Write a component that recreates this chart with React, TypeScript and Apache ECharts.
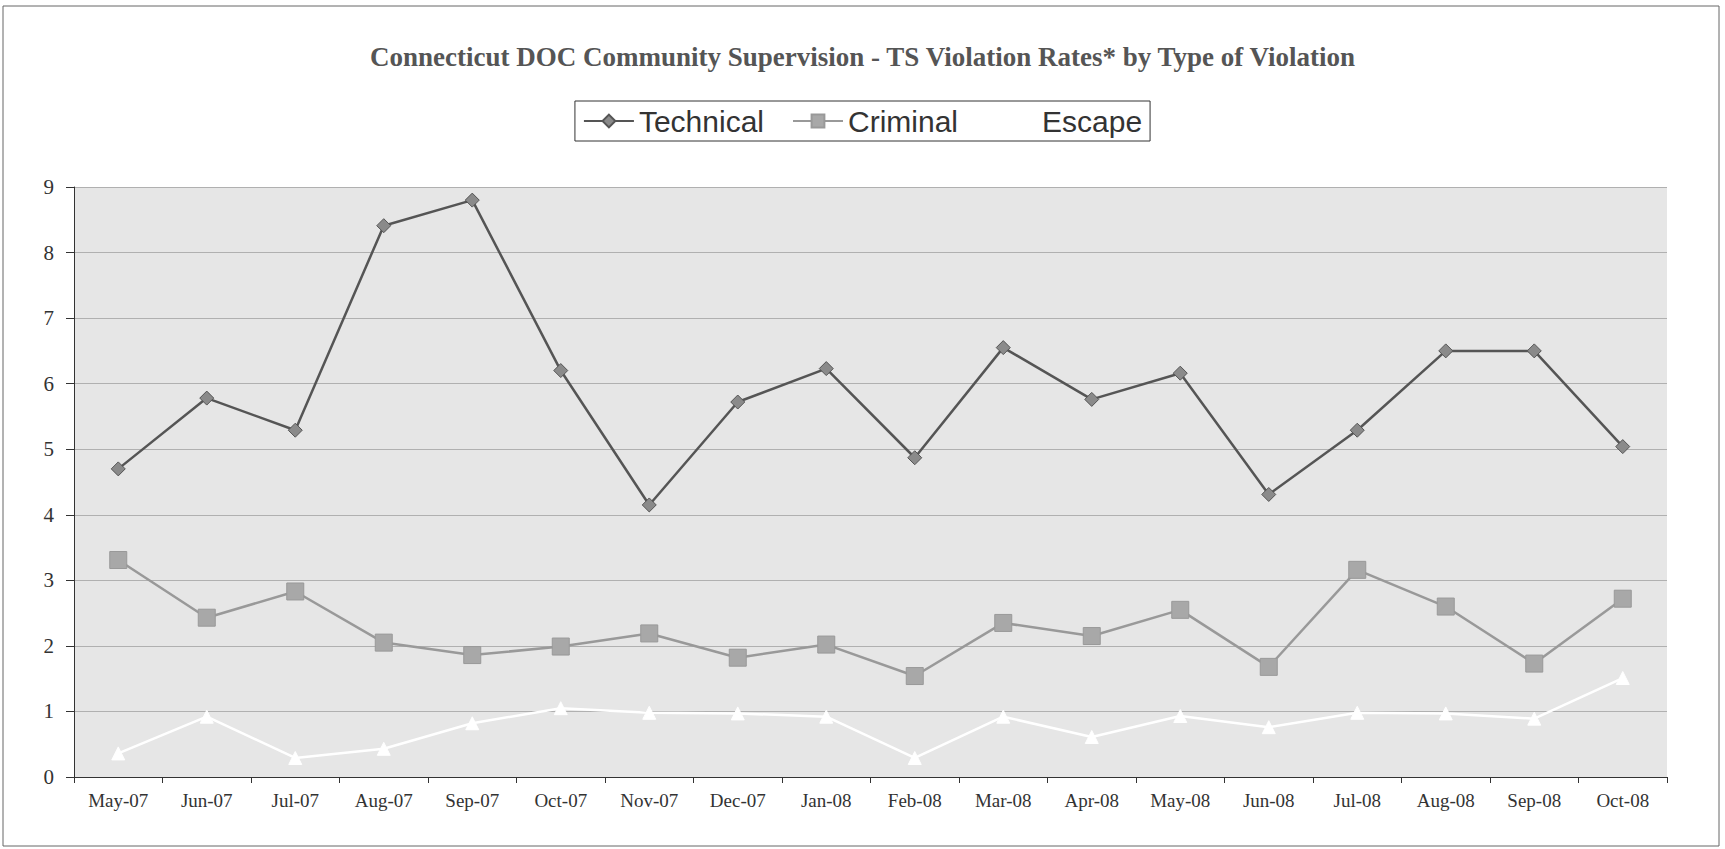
import React, { useEffect, useRef } from "react";
import * as echarts from "echarts";

const categories = [
  "May-07", "Jun-07", "Jul-07", "Aug-07", "Sep-07", "Oct-07", "Nov-07", "Dec-07", "Jan-08",
  "Feb-08", "Mar-08", "Apr-08", "May-08", "Jun-08", "Jul-08", "Aug-08", "Sep-08", "Oct-08",
];
const technical = [4.7, 5.78, 5.29, 8.41, 8.8, 6.2, 4.15, 5.72, 6.23, 4.87, 6.55, 5.76, 6.16, 4.31, 5.29, 6.5, 6.5, 5.04];
const criminal = [3.31, 2.43, 2.83, 2.05, 1.86, 1.99, 2.19, 1.82, 2.02, 1.54, 2.35, 2.15, 2.55, 1.68, 3.16, 2.6, 1.73, 2.72];
const escape = [0.36, 0.92, 0.29, 0.43, 0.82, 1.05, 0.98, 0.97, 0.92, 0.29, 0.92, 0.61, 0.93, 0.76, 0.98, 0.97, 0.89, 1.51];
const yTicks = [0, 1, 2, 3, 4, 5, 6, 7, 8, 9];

export default function App() {
  const ref = useRef<HTMLDivElement>(null);
  useEffect(() => {
    if (!ref.current) return;
    const chart = echarts.init(ref.current, null, { renderer: "svg" });
    chart.setOption({
      animation: false,
      backgroundColor: "#ffffff",
      title: {
        text: "Connecticut DOC Community Supervision - TS Violation Rates* by Type of Violation",
        left: "center",
        top: 38,
        textStyle: {
          fontFamily: "Liberation Serif",
          fontWeight: "bold",
          fontSize: 27,
          color: "#555",
        },
      },
      legend: {
        top: 101,
        left: "center",
        borderColor: "#333",
        borderWidth: 1,
        padding: [5, 8, 5, 8],
        itemGap: 28,
        itemWidth: 50,
        itemHeight: 16,
        textStyle: { fontFamily: "Liberation Sans", fontSize: 30, color: "#333" },
        data: ["Technical", "Criminal", "Escape"],
      },
      graphic: [
        {
          type: "rect",
          shape: { x: 3, y: 6, width: 1716, height: 840 },
          style: { fill: "none", stroke: "#666", lineWidth: 1 },
          silent: true,
        },
      ],
      grid: { left: 74, right: 58, top: 187, bottom: 72, show: true, backgroundColor: "#e6e6e6", borderWidth: 0 },
      xAxis: {
        type: "category",
        data: categories,
        boundaryGap: true,
        axisLine: { lineStyle: { color: "#333", width: 1 } },
        axisTick: { show: true, alignWithLabel: false, length: 6, lineStyle: { color: "#333" } },
        axisLabel: { fontFamily: "Liberation Serif", fontSize: 19, color: "#333", margin: 14 },
      },
      yAxis: {
        type: "value",
        min: 0,
        max: 9,
        interval: 1,
        axisLine: { show: true, lineStyle: { color: "#333", width: 1 } },
        axisTick: { show: true, length: 8, lineStyle: { color: "#333" } },
        axisLabel: {
          fontFamily: "Liberation Serif",
          fontSize: 21,
          color: "#333",
          margin: 20,
          formatter: (v: number) => (yTicks.includes(v) ? String(v) : ""),
        },
        splitLine: { show: true, lineStyle: { color: "#b0b0b0", width: 1 } },
      },
      series: [
        {
          name: "Technical",
          type: "line",
          data: technical,
          symbol: "diamond",
          symbolSize: 14,
          itemStyle: { color: "#8a8a8a", borderColor: "#555", borderWidth: 1 },
          lineStyle: { color: "#555", width: 2.5 },
        },
        {
          name: "Criminal",
          type: "line",
          data: criminal,
          symbol: "rect",
          symbolSize: 17,
          itemStyle: { color: "#a8a8a8", borderColor: "#999", borderWidth: 1 },
          lineStyle: { color: "#999", width: 2.5 },
        },
        {
          name: "Escape",
          type: "line",
          data: escape,
          symbol: "triangle",
          symbolSize: 13,
          itemStyle: { color: "#ffffff", borderColor: "#ffffff" },
          lineStyle: { color: "#ffffff", width: 2.5 },
        },
      ],
    });
    return () => chart.dispose();
  }, []);
  return <div ref={ref} style={{ width: 1725, height: 849, position: "absolute", left: 0, top: 0 }} />;
}
